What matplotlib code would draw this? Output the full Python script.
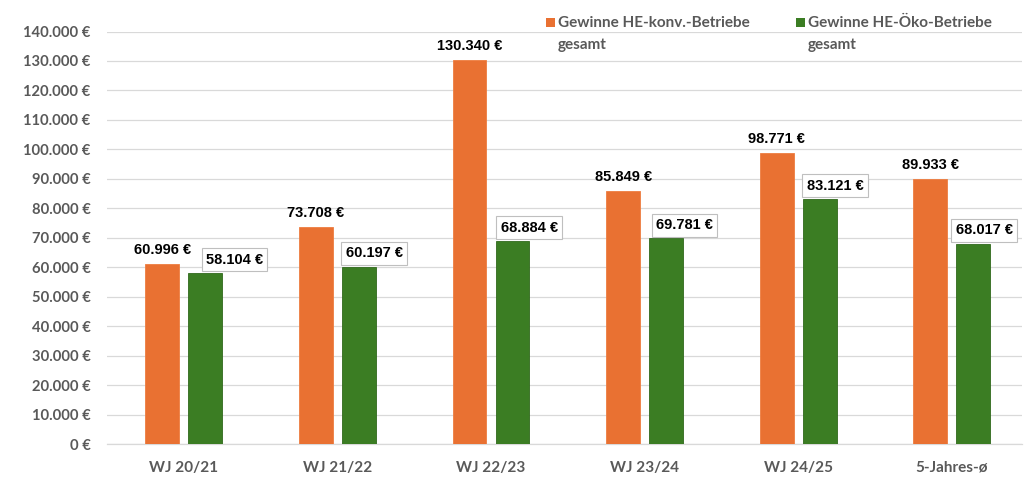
import matplotlib
matplotlib.use("Agg")
import matplotlib.pyplot as plt
import numpy as np
from matplotlib.ticker import FuncFormatter, MultipleLocator
from matplotlib.patches import Rectangle

categories = ["WJ 20/21", "WJ 21/22", "WJ 22/23", "WJ 23/24", "WJ 24/25", "5-Jahres-ø"]
konv = [60996, 73708, 130340, 85849, 98771, 89933]
oeko = [58104, 60197, 68884, 69781, 83121, 68017]
series_names = [("Gewinne HE-konv.-Betriebe", "gesamt"), ("Gewinne HE-Öko-Betriebe", "gesamt")]

# style: horizontal shift of the boxed green labels (in category units)
oeko_label_dx = [0.19, 0.10, 0.11, 0.12, 0.10, 0.07]

ORANGE = "#E97132"
GREEN = "#3B7D23"
GREY = "#595959"

def fmt(v):
    return f"{int(v):,}".replace(",", ".") + " €"

W, H = 1024, 504
fig = plt.figure(figsize=(W/100, H/100), dpi=100)
ax = fig.add_axes([107/W, (H-444)/H, (1022-107)/W, (444-31.5)/H])

x = np.arange(len(categories))
w = 0.22
off = 0.14
ax.bar(x - off, konv, w, color=ORANGE, edgecolor="#EE7D40", linewidth=0.6, zorder=3)
ax.bar(x + off, oeko, w, color=GREEN, edgecolor="#30691C", linewidth=0.6, zorder=3)

for xi, v in zip(x - off, konv):
    ax.text(xi, v + 4800, fmt(v), ha="center", va="center", fontsize=10.5, fontweight="bold",
            family="Liberation Sans", color="black", zorder=5)
for xi, v, dx in zip(x + off, oeko, oeko_label_dx):
    ax.text(xi + dx, v + 4500, fmt(v), ha="center", va="center", fontsize=10.5, fontweight="bold",
            family="Liberation Sans", color="black", zorder=5,
            bbox=dict(boxstyle="square,pad=0.3", facecolor="white", edgecolor="#BFBFBF", linewidth=0.8))

ax.set_ylim(0, 140000)
ax.set_xlim(-0.5, 5.457)
ax.yaxis.set_major_locator(MultipleLocator(10000))
ax.yaxis.set_major_formatter(FuncFormatter(lambda v, p: fmt(v)))
ax.set_xticks(x)
ax.set_xticklabels(categories)
for lab in ax.get_yticklabels() + ax.get_xticklabels():
    lab.set_family("Lato")
    lab.set_fontweight("bold")
    lab.set_color(GREY)
for lab in ax.get_yticklabels():
    lab.set_fontsize(10.6)
for lab in ax.get_xticklabels():
    lab.set_fontsize(11)

ax.tick_params(axis="y", length=0, pad=12)
ax.tick_params(axis="x", length=0, pad=12)
ax.grid(axis="y", color="#D9D9D9", linewidth=0.9, zorder=0)
for s in ["top", "right", "left"]:
    ax.spines[s].set_visible(False)
ax.spines["bottom"].set_color("#D9D9D9")
ax.spines["bottom"].set_linewidth(0.9)

# legend drawn manually (square aligned with first line, second line indented)
for (l1, l2), col, sx in zip(series_names, [ORANGE, GREEN], [546, 796]):
    fig.patches.append(Rectangle((sx/W, (H-27)/H), 9/W, 9/H, transform=fig.transFigure,
                                 facecolor=col, edgecolor="none"))
    fig.text((sx+12)/W, (H-23)/H, l1, ha="left", va="center", family="Lato", fontweight="bold",
             fontsize=11, color=GREY)
    fig.text((sx+12)/W, (H-45)/H, l2, ha="left", va="center", family="Lato", fontweight="bold",
             fontsize=11, color=GREY)

fig.savefig("out.png", dpi=100)
